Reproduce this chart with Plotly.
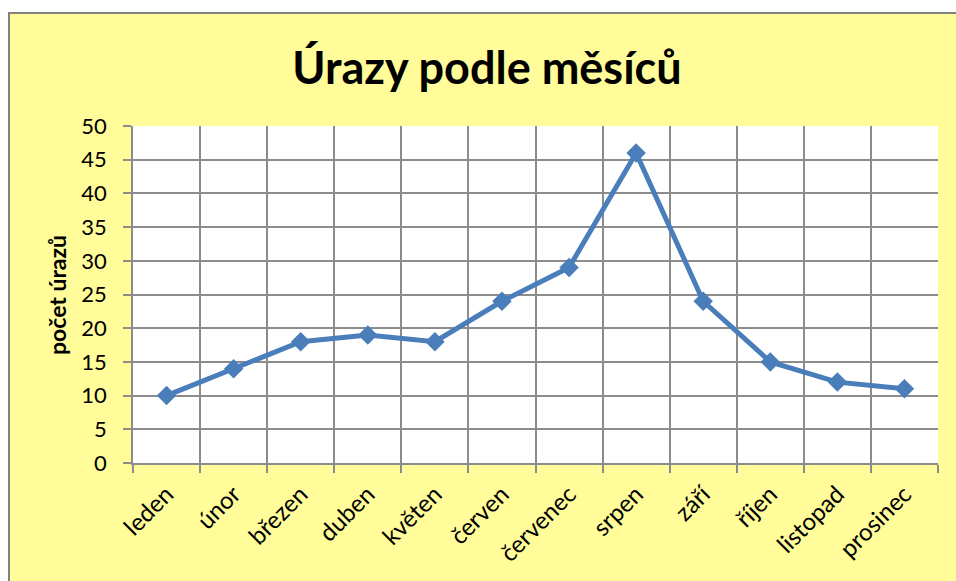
import plotly.graph_objects as go

months = ["leden", "únor", "březen", "duben", "květen", "červen", "červenec",
          "srpen", "září", "říjen", "listopad", "prosinec"]
injuries = [10, 14, 18, 19, 18, 24, 29, 46, 24, 15, 12, 11]
y_ticks = [0, 5, 10, 15, 20, 25, 30, 35, 40, 45, 50]

W, H = 956, 581
L, R, T, B = 133, 18, 126, 118
PW, PH = W - L - R, H - T - B
YELLOW = "#FFFC99"
GRID = "#8C8C8C"
FONT = "Lato"

def px(sx):
    return (sx - L) / PW

def py(sy):
    return (H - B - sy) / PH

fig = go.Figure()
fig.add_trace(go.Scatter(
    x=months, y=injuries, mode="lines+markers",
    line=dict(color="#4A7EBB", width=5),
    marker=dict(symbol="diamond", size=15, color="#4A7EBB"),
    cliponaxis=False,
))

shapes = [
    dict(type="rect", xref="paper", yref="paper", x0=px(-5), x1=px(970),
         y0=py(-5), y1=py(13), fillcolor="white", line_width=0, layer="above"),
    dict(type="rect", xref="paper", yref="paper", x0=px(-5), x1=px(8),
         y0=py(-5), y1=py(600), fillcolor="white", line_width=0, layer="above"),
    dict(type="line", xref="paper", yref="paper", x0=px(8), x1=px(970),
         y0=py(13), y1=py(13), line=dict(color="#808080", width=2), layer="above"),
    dict(type="line", xref="paper", yref="paper", x0=px(9), x1=px(9),
         y0=py(13), y1=py(600), line=dict(color="#808080", width=2), layer="above"),
]

fig.update_layout(
    width=W, height=H,
    margin=dict(l=L, r=R, t=T, b=B),
    paper_bgcolor=YELLOW, plot_bgcolor="white",
    showlegend=False,
    font=dict(family=FONT, color="black"),
    title=dict(text="<b>Úrazy podle měsíců</b>", xref="container", yref="container",
               x=487 / W, xanchor="center",
               y=1 - 68 / H, yanchor="middle", font=dict(size=45, family=FONT)),
    shapes=shapes,
    annotations=[dict(text="<b>počet úrazů</b>", xref="paper", yref="paper",
                      x=px(57), y=py(295), xanchor="center", yanchor="middle",
                      textangle=-90, showarrow=False,
                      font=dict(size=23, family=FONT))],
)
fig.update_xaxes(
    type="category", range=[-0.5, 11.5], tickson="boundaries",
    showgrid=True, gridcolor=GRID, gridwidth=1.5,
    ticks="outside", ticklen=8, tickcolor=GRID, tickwidth=1.5,
    showline=True, linecolor=GRID, linewidth=1.5,
    tickangle=-45, tickfont=dict(size=24, family=FONT), ticklabelstandoff=6,
)
fig.update_yaxes(
    range=[0, 50], tickvals=y_ticks,
    showgrid=True, gridcolor=GRID, gridwidth=1.5,
    ticks="outside", ticklen=8, tickcolor=GRID, tickwidth=1.5,
    showline=True, linecolor=GRID, linewidth=1.5, zeroline=False,
    tickfont=dict(size=22, family=FONT), ticklabelstandoff=12,
)

fig.write_html("out.html", config={"displayModeBar": False},
               post_script="document.body.style.margin='0';"
                           "document.body.style.overflow='hidden';")
